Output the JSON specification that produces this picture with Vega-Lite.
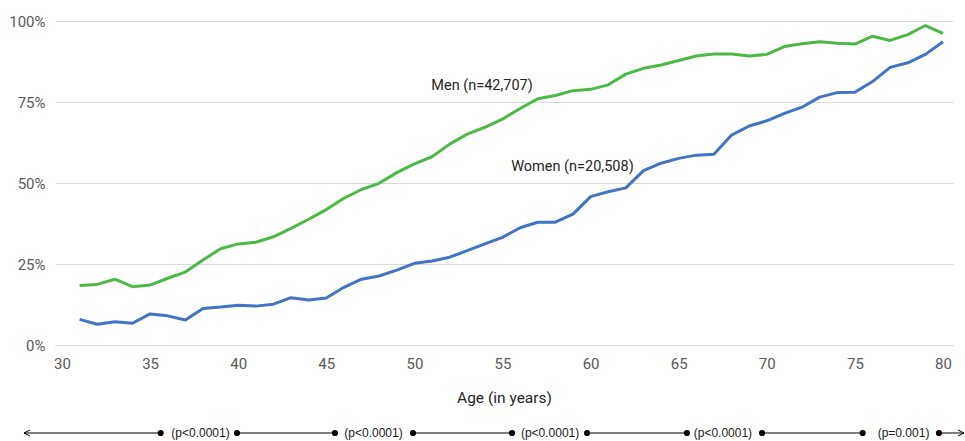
{
  "$schema": "https://vega.github.io/schema/vega-lite/v6.json",
  "autosize": {"type": "none"},
  "width": 898,
  "height": 324,
  "padding": {"left": 55, "top": 21, "right": 12, "bottom": 96},
  "background": "white",
  "config": {
    "view": {"stroke": null},
    "font": "Roboto, sans-serif"
  },
  "layer": [
    {
      "data": {"values": [
        {"age":31,"sex":"Men","share":0.184},{"age":32,"sex":"Men","share":0.187},{"age":33,"sex":"Men","share":0.203},{"age":34,"sex":"Men","share":0.180},{"age":35,"sex":"Men","share":0.185},
        {"age":36,"sex":"Men","share":0.206},{"age":37,"sex":"Men","share":0.225},{"age":38,"sex":"Men","share":0.262},{"age":39,"sex":"Men","share":0.297},{"age":40,"sex":"Men","share":0.312},
        {"age":41,"sex":"Men","share":0.317},{"age":42,"sex":"Men","share":0.334},{"age":43,"sex":"Men","share":0.360},{"age":44,"sex":"Men","share":0.388},{"age":45,"sex":"Men","share":0.418},
        {"age":46,"sex":"Men","share":0.453},{"age":47,"sex":"Men","share":0.480},{"age":48,"sex":"Men","share":0.499},{"age":49,"sex":"Men","share":0.532},{"age":50,"sex":"Men","share":0.559},
        {"age":51,"sex":"Men","share":0.581},{"age":52,"sex":"Men","share":0.620},{"age":53,"sex":"Men","share":0.651},{"age":54,"sex":"Men","share":0.672},{"age":55,"sex":"Men","share":0.697},
        {"age":56,"sex":"Men","share":0.730},{"age":57,"sex":"Men","share":0.760},{"age":58,"sex":"Men","share":0.770},{"age":59,"sex":"Men","share":0.785},{"age":60,"sex":"Men","share":0.789},
        {"age":61,"sex":"Men","share":0.803},{"age":62,"sex":"Men","share":0.836},{"age":63,"sex":"Men","share":0.854},{"age":64,"sex":"Men","share":0.864},{"age":65,"sex":"Men","share":0.878},
        {"age":66,"sex":"Men","share":0.892},{"age":67,"sex":"Men","share":0.898},{"age":68,"sex":"Men","share":0.898},{"age":69,"sex":"Men","share":0.892},{"age":70,"sex":"Men","share":0.897},
        {"age":71,"sex":"Men","share":0.921},{"age":72,"sex":"Men","share":0.930},{"age":73,"sex":"Men","share":0.936},{"age":74,"sex":"Men","share":0.931},{"age":75,"sex":"Men","share":0.929},
        {"age":76,"sex":"Men","share":0.953},{"age":77,"sex":"Men","share":0.940},{"age":78,"sex":"Men","share":0.958},{"age":79,"sex":"Men","share":0.986},{"age":80,"sex":"Men","share":0.962},
        {"age":31,"sex":"Women","share":0.079},{"age":32,"sex":"Women","share":0.064},{"age":33,"sex":"Women","share":0.072},{"age":34,"sex":"Women","share":0.067},{"age":35,"sex":"Women","share":0.096},
        {"age":36,"sex":"Women","share":0.090},{"age":37,"sex":"Women","share":0.077},{"age":38,"sex":"Women","share":0.113},{"age":39,"sex":"Women","share":0.117},{"age":40,"sex":"Women","share":0.123},
        {"age":41,"sex":"Women","share":0.120},{"age":42,"sex":"Women","share":0.126},{"age":43,"sex":"Women","share":0.146},{"age":44,"sex":"Women","share":0.139},{"age":45,"sex":"Women","share":0.145},
        {"age":46,"sex":"Women","share":0.178},{"age":47,"sex":"Women","share":0.203},{"age":48,"sex":"Women","share":0.213},{"age":49,"sex":"Women","share":0.231},{"age":50,"sex":"Women","share":0.252},
        {"age":51,"sex":"Women","share":0.259},{"age":52,"sex":"Women","share":0.271},{"age":53,"sex":"Women","share":0.291},{"age":54,"sex":"Women","share":0.312},{"age":55,"sex":"Women","share":0.332},
        {"age":56,"sex":"Women","share":0.362},{"age":57,"sex":"Women","share":0.379},{"age":58,"sex":"Women","share":0.379},{"age":59,"sex":"Women","share":0.404},{"age":60,"sex":"Women","share":0.458},
        {"age":61,"sex":"Women","share":0.473},{"age":62,"sex":"Women","share":0.485},{"age":63,"sex":"Women","share":0.538},{"age":64,"sex":"Women","share":0.561},{"age":65,"sex":"Women","share":0.576},
        {"age":66,"sex":"Women","share":0.586},{"age":67,"sex":"Women","share":0.589},{"age":68,"sex":"Women","share":0.648},{"age":69,"sex":"Women","share":0.676},{"age":70,"sex":"Women","share":0.692},
        {"age":71,"sex":"Women","share":0.715},{"age":72,"sex":"Women","share":0.734},{"age":73,"sex":"Women","share":0.765},{"age":74,"sex":"Women","share":0.779},{"age":75,"sex":"Women","share":0.780},
        {"age":76,"sex":"Women","share":0.813},{"age":77,"sex":"Women","share":0.857},{"age":78,"sex":"Women","share":0.871},{"age":79,"sex":"Women","share":0.897},{"age":80,"sex":"Women","share":0.936}
      ]},
      "mark": {"type": "line", "strokeWidth": 3, "strokeJoin": "round"},
      "encoding": {
        "x": {
          "field": "age", "type": "quantitative",
          "scale": {"domain": [29.603, 80.5675], "nice": false, "zero": false},
          "axis": {
            "values": [30,35,40,45,50,55,60,65,70,75,80],
            "grid": false, "ticks": false,
            "domain": true, "domainColor": "#d9d9d9", "domainWidth": 1,
            "labelFontSize": 15, "labelColor": "#595959", "labelPadding": 11,
            "labelFont": "Roboto, sans-serif",
            "title": "Age (in years)", "titleFontSize": 15.5, "titleFontWeight": "normal",
            "titleColor": "#262626", "titlePadding": 19,
            "titleFont": "Roboto, sans-serif"
          }
        },
        "y": {
          "field": "share", "type": "quantitative",
          "scale": {"domain": [0, 1], "nice": false, "zero": false},
          "axis": {
            "values": [0, 0.25, 0.5, 0.75, 1], "format": ".0%",
            "grid": true, "gridColor": "#d9d9d9", "gridWidth": 1,
            "domain": false, "ticks": false,
            "labelFontSize": 15, "labelColor": "#595959", "labelPadding": 10,
            "labelFont": "Roboto, sans-serif",
            "title": null
          }
        },
        "color": {
          "field": "sex", "type": "nominal",
          "scale": {"domain": ["Men", "Women"], "range": ["#4db848", "#4472c4"]},
          "legend": null
        }
      }
    },
    {
      "data": {"values": [
        {"label": "Men (n=42,707)", "age": 53.84, "share": 0.80},
        {"label": "Women (n=20,508)", "age": 58.97, "share": 0.548}
      ]},
      "mark": {"type": "text", "fontSize": 14.5, "color": "#262626", "baseline": "middle", "align": "center",
               "font": "Roboto, sans-serif"},
      "encoding": {
        "x": {"field": "age", "type": "quantitative"},
        "y": {"field": "share", "type": "quantitative"},
        "text": {"field": "label"}
      }
    },
    {
      "data": {"values": [
        {"from": 27.843, "to": 35.60},
        {"from": 39.93, "to": 45.49},
        {"from": 49.92, "to": 55.54},
        {"from": 59.80, "to": 65.47},
        {"from": 69.73, "to": 75.44},
        {"from": 79.77, "to": 81.19}
      ]},
      "mark": {"type": "rule", "color": "#000000", "strokeWidth": 1},
      "encoding": {
        "x": {"field": "from", "type": "quantitative"},
        "x2": {"field": "to"},
        "y": {"datum": -0.2716}
      }
    },
    {
      "data": {"values": [
        {"age": 35.60},{"age": 39.93},{"age": 45.49},{"age": 49.92},{"age": 55.54},
        {"age": 59.80},{"age": 65.47},{"age": 69.73},{"age": 75.44},{"age": 79.77}
      ]},
      "mark": {"type": "point", "shape": "circle", "filled": true, "color": "#000000", "size": 38, "opacity": 1},
      "encoding": {
        "x": {"field": "age", "type": "quantitative"},
        "y": {"datum": -0.2716}
      }
    },
    {
      "data": {"values": [{"age": 27.843, "dir": "left"}]},
      "mark": {"type": "point", "shape": "M 2 -1 L 0 0 L 2 1", "filled": false, "stroke": "#000000", "strokeWidth": 1, "size": 36, "opacity": 1},
      "encoding": {
        "x": {"field": "age", "type": "quantitative"},
        "y": {"datum": -0.2716}
      }
    },
    {
      "data": {"values": [{"age": 81.19, "dir": "right"}]},
      "mark": {"type": "point", "shape": "M -2 -1 L 0 0 L -2 1", "filled": false, "stroke": "#000000", "strokeWidth": 1, "size": 36, "opacity": 1},
      "encoding": {
        "x": {"field": "age", "type": "quantitative"},
        "y": {"datum": -0.2716}
      }
    },
    {
      "data": {"values": [
        {"age": 37.86, "p": "(p<0.0001)"},
        {"age": 47.68, "p": "(p<0.0001)"},
        {"age": 57.70, "p": "(p<0.0001)"},
        {"age": 67.51, "p": "(p<0.0001)"},
        {"age": 77.76, "p": "(p=0.001)"}
      ]},
      "mark": {"type": "text", "fontSize": 12, "color": "#1a1a1a", "baseline": "middle", "align": "center",
               "font": "Liberation Sans, Arial, sans-serif"},
      "encoding": {
        "x": {"field": "age", "type": "quantitative"},
        "y": {"datum": -0.2716},
        "text": {"field": "p"}
      }
    }
  ]
}
